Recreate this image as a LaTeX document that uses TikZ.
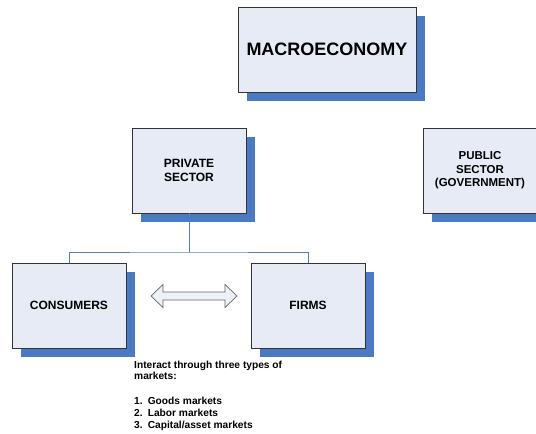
\documentclass[tikz,border=0pt]{standalone}
\usepackage{fontspec}
\setmainfont{Liberation Sans}
\usetikzlibrary{shadows}
\definecolor{boxfill}{HTML}{E6EBF6}
\definecolor{shadowblue}{HTML}{4A7AC4}
\definecolor{connblue}{HTML}{4F81BD}
\definecolor{arrowfill}{HTML}{EEF1F7}
\tikzset{
  box/.style={draw=black!80, line width=0.8pt, fill=boxfill, rectangle,
    minimum width=114, minimum height=85, inner sep=0pt, align=center,
    font=\bfseries\fontsize{12}{14.5}\selectfont,
    drop shadow={shadow xshift=8.5pt, shadow yshift=-8.5pt, fill=shadowblue, opacity=1}},
  conn/.style={draw=connblue, line width=0.8pt},
  dblarrow/.style={draw=black!60, line width=0.7pt, fill=arrowfill, line join=miter},
  note/.style={font=\bfseries\fontsize{10.2}{11.8}\selectfont, align=left, anchor=north west, inner sep=0pt}
}
\begin{document}
\begin{tikzpicture}[x=1pt,y=-1pt]
\useasboundingbox (0,0) rectangle (536,434);
\clip (0,0) rectangle (536,434);
\fill[white] (0,0) rectangle (536,434);
\node[box, minimum width=178, font=\bfseries\fontsize{18}{20}\selectfont] (macro) at (327,49.5) {MACROECONOMY};
\node[box] (priv) at (189,170.5) {PRIVATE\\SECTOR};
\node[box, font=\bfseries\fontsize{11.5}{13.5}\selectfont] (pub) at (480,170.5) {PUBLIC\\SECTOR\\(GOVERNMENT)};
\node[box] (cons) at (69,305.5) {CONSUMERS};
\node[box] (firms) at (308,305.5) {FIRMS};
\coordinate (j) at (189,252);
\draw[conn] (priv.south) -- (j);
\draw[conn] (cons.north) |- (j) -| (firms.north);
\draw[dblarrow] (151,296) -- (163,284.5) -- (163,292) -- (225,292) -- (225,284.5)
  -- (237,296) -- (225,307.5) -- (225,300) -- (163,300) -- (163,307.5) -- cycle;
\node[note] (txt) at (134,360.5) {Interact through three types of\\markets:\\[13pt]
1.\hspace{0.5em}Goods markets\\2.\hspace{0.5em}Labor markets\\3.\hspace{0.5em}Capital/asset markets};
\end{tikzpicture}
\end{document}
